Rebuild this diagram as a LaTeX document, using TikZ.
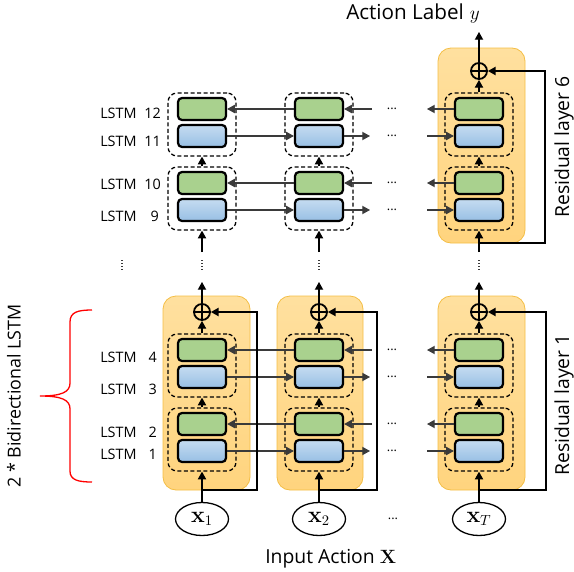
\documentclass[tikz,border=0pt]{standalone}
\usepackage[no-math]{fontspec}
\setmainfont{Open Sans}
\usetikzlibrary{arrows.meta,shapes.geometric}
\newdimen\pxu \pxu=0.75pt
\definecolor{lstmgreen}{HTML}{A9D18E}
\definecolor{lstmblueT}{HTML}{C5DCF1}
\definecolor{lstmblueB}{HTML}{98BFE4}
\definecolor{resT}{HTML}{FFE09F}
\definecolor{resB}{HTML}{FFD47E}
\definecolor{resEdge}{HTML}{F4BE45}
\definecolor{linkgray}{HTML}{3A3A3A}
\tikzset{
  cell/.style={draw=black, line width=2.2\pxu, rounded corners=4\pxu,
    minimum width=48\pxu, minimum height=22\pxu, inner sep=0pt},
  fwdcell/.style={cell, top color=lstmblueT, bottom color=lstmblueB},
  bwdcell/.style={cell, fill=lstmgreen},
  pairbox/.style={draw, dash pattern=on 4\pxu off 2.5\pxu, line width=1.3\pxu,
    rounded corners=9\pxu, minimum width=68\pxu, minimum height=63\pxu, inner sep=0pt},
  resblock/.style={draw=resEdge, line width=0.8\pxu, rounded corners=13\pxu,
    top color=resT, bottom color=resB, inner sep=0pt},
  sumnode/.style={circle, draw, line width=1.8\pxu, minimum size=16\pxu, inner sep=0pt,
    path picture={\draw[line width=1.8\pxu]
      (path picture bounding box.north) -- (path picture bounding box.south)
      (path picture bounding box.west) -- (path picture bounding box.east);}},
  headtip/.style={-{Triangle[length=5.8pt,width=6.2pt]}},
  uplink/.style={headtip, line width=1.1\pxu, black},
  rowlink/.style={headtip, line width=1.1\pxu, linkgray},
  resline/.style={headtip, line width=1.5\pxu, black},
  dotline/.style={line width=1.4\pxu, dash pattern=on 1.3\pxu off 1.7\pxu, linkgray},
  inputnode/.style={ellipse, draw, line width=1.3\pxu, minimum width=53\pxu,
    minimum height=33\pxu, inner sep=0pt, font=\fontsize{16}{18}\selectfont},
  lab/.style={inner sep=0pt, font=\fontsize{10.8}{12}\selectfont},
  bigtext/.style={inner sep=0pt, font=\fontsize{14.5}{16}\selectfont},
  gapdots/.style={inner sep=0pt, font=\fontsize{9.5}{10}\selectfont},
}
\begin{document}
\begin{tikzpicture}[x=0.75pt,y=-0.75pt]
\useasboundingbox (0,0) rectangle (574,571);

% residual blocks (orange)
\node[resblock, minimum width=87\pxu, minimum height=195\pxu] (r63) at (481.5,145.5) {};
\foreach \c/\cx/\w in {1/206.5/87, 2/320/86, 3/481.5/87}
  \node[resblock, minimum width=\w\pxu, minimum height=194\pxu] (r1\c) at (\cx,393) {};

% bidirectional LSTM pairs: green = backward, blue = forward
\foreach \pr/\gy in {6u/109, 6l/183, 1u/350, 1l/424}{
  \foreach \c/\x in {1/202, 2/319, 3/479}{
    \node[pairbox] (d\pr\c) at (\x,\gy+15.5) {};
    \node[bwdcell] (g\pr\c) at (\x,\gy) {};
    \node[fwdcell] (b\pr\c) at (\x,\gy+27) {};
  }
}

% recurrent connections along time
\foreach \pr/\gy in {6u/109, 6l/183, 1u/350, 1l/424}{
  \draw[rowlink] (g\pr2.west) -- (g\pr1.east);
  \draw[rowlink] (b\pr1.east) -- (b\pr2.west);
  \coordinate (gr\pr) at (372,\gy);
  \draw[rowlink] (gr\pr) -- (g\pr2.east);
  \coordinate (br\pr) at (370,\gy+27);
  \draw[rowlink] (b\pr2.east) -- (br\pr);
  \coordinate (gl\pr) at (427,\gy);
  \draw[rowlink] (g\pr3.west) -- (gl\pr);
  \coordinate (bl\pr) at (427,\gy+27);
  \draw[rowlink] (bl\pr) -- (b\pr3.west);
  \node[gapdots] (dg\pr) at (392,\gy) {...};
  \node[gapdots] (db\pr) at (392,\gy+27) {...};
}

% stacking between the two pairs of a block
\foreach \c in {1,2,3}{
  \draw[uplink] (d6l\c.north) -- (d6u\c.south);
  \draw[uplink] (d1l\c.north) -- (d1u\c.south);
}

% residual layer 1, inputs and the gap up to the top block
\node[inputnode] (x1) at (202,519) {$\mathbf{x}_1$};
\node[inputnode] (x2) at (319,519) {$\mathbf{x}_2$};
\node[inputnode] (x3) at (479,519) {$\mathbf{x}_T$};
\foreach \c/\x/\rx in {1/202/257, 2/319/377, 3/479/546}{
  \node[sumnode] (s1\c) at (\x,312) {};
  \draw[uplink] (d1u\c.north) -- (s1\c.south);
  \coordinate (up\c) at (\x,282);
  \draw[uplink] (s1\c.north) -- (up\c);
  \draw[uplink] (x\c.north) -- (d1l\c.south);
  \coordinate (rb\c) at (\x,490);
  \coordinate (rc\c) at (\rx,490);
  \draw[resline] (rb\c) -- (rc\c) |- (s1\c.east);
  \coordinate (dn\c) at (\x,252);
  \draw[uplink] (dn\c) -- (d6l\c.south);
  \coordinate (va\c) at (\x,260);
  \coordinate (vb\c) at (\x,270);
  \draw[dotline] (va\c) -- (vb\c);
}
\coordinate (va0) at (122,260);
\coordinate (vb0) at (122,270);
\draw[dotline] (va0) -- (vb0);

% residual layer 6 (output)
\node[sumnode] (s63) at (479,71) {};
\draw[uplink] (d6u3.north) -- (s63.south);
\coordinate (out) at (479,32);
\draw[uplink] (s63.north) -- (out);
\coordinate (rb6) at (479,243);
\coordinate (rc6) at (545,243);
\draw[resline] (rb6) -- (rc6) |- (s63.east);

% layer labels
\foreach \n/\ly/\nx in {12/113/161, 11/141/161, 10/184/161, 9/216/159,
                        4/357/157, 3/389/157, 2/432/157, 1/454/157}{
  \node[lab, anchor=west] (lw\n) at (100,\ly) {LSTM};
  \node[lab, anchor=east] (ln\n) at (\nx,\ly) {\n};
}

% brace over the two bidirectional pairs
\draw[red, line width=1.3\pxu] (92,310) .. controls (78,310) and (70,312) .. (70,322)
  -- (70,383) .. controls (70,392) and (62,396) .. (40,396)
  .. controls (62,396) and (70,400) .. (70,409)
  -- (70,471) .. controls (70,480) and (78,482) .. (92,482);

% texts
\node[inner sep=0pt, font=\fontsize{15.5}{17}\selectfont, anchor=base west] (title)
  at (346,19) {Action Label\hspace{6\pxu}$y$};
\node[bigtext, anchor=base west] (inlabel) at (265,563) {Input Action $\mathbf{X}$};
\node[inner sep=0pt, font=\fontsize{13.4}{15}\selectfont, rotate=90] (bilabel)
  at (14,396) {2 * Bidirectional LSTM};
\node[bigtext, rotate=90] (res6) at (564,147) {Residual layer 6};
\node[bigtext, rotate=90] (res1) at (564,405) {Residual layer 1};
\node[gapdots] (xdots) at (393,519) {...};
\end{tikzpicture}
\end{document}
